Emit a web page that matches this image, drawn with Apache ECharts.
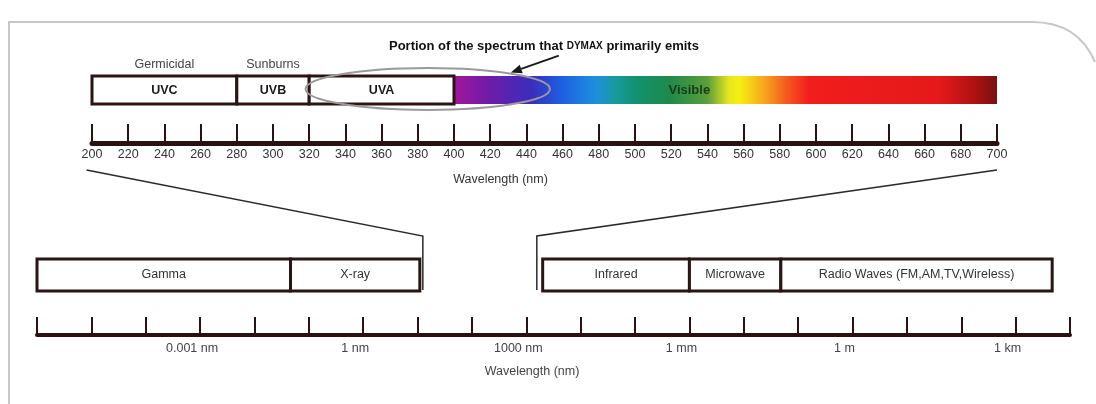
<!DOCTYPE html>
<html><head><meta charset="utf-8">
<script src="https://cdn.jsdelivr.net/npm/echarts@6/dist/echarts.min.js"></script>
<style>html,body{margin:0;padding:0;background:#fff}#c{width:1096px;height:404px}</style>
</head><body><div id="c"></div>
<script>
const FONT = "'Liberation Sans', Arial, sans-serif";

// ---------- top scale (wavelength, nm) ----------
const topMin = 200, topMax = 700, topStep = 20;
const uvNames = ['UVC', 'UVB', 'UVA'];
const uvStart = [200, 280, 320];
const uvEnd = [280, 320, 400];
const uvNotes = ['Germicidal', 'Sunburns', ''];
const visibleName = 'Visible';
const visibleRange = [400, 700];
const visibleLabelNm = 530;
const spectrumNm = [400, 420, 443, 459, 478, 490, 502, 519, 540, 552, 558, 571, 583, 596, 668, 686, 700];
const spectrumColor = ['#a3169d', '#6c1ca9', '#3a2dbd', '#1e5ee0', '#1e8fe0', '#179a9a', '#11916c', '#1f8a4b',
  '#5c9e3c', '#e6e61e', '#f7ee12', '#f6a81b', '#f55e1f', '#f21d1d', '#e51919', '#b51212', '#7a1010'];
const emitRange = [318, 453];
const emitTitle = ['Portion of the spectrum that ', 'DYMAX', ' primarily emits'];

// ---------- bottom scale (wavelength, nm, logarithmic) ----------
const logMin = 1e-6, logMax = 1e13;
const bandNames = ['Gamma', 'X-ray', 'Infrared', 'Microwave', 'Radio Waves (FM,AM,TV,Wireless)'];
const bandStart = [1e-6, 0.046, 2000, 1e6, 4.8e7];
const bandEnd = [0.046, 11, 1e6, 4.8e7, 4.7e12];
const logTickValues = [1e-3, 1, 1e3, 1e6, 1e9, 1e12];
const logTickLabels = ['0.001 nm', '1 nm', '1000 nm', '1 mm', '1 m', '1 km'];

// ---------- zoom connectors (top nm -> bottom nm) ----------
const connectorTopNm = [197, 700];
const connectorBottomNm = [12.5, 1560];

const AXIS_DARK = '#2b1212';
const BOX_STROKE = '#2a1414';
const lg = v => Math.log10(v);

const chart = echarts.init(document.getElementById('c'), null, {renderer: 'canvas'});

const gradient = new echarts.graphic.LinearGradient(0, 0, 1, 0,
  spectrumNm.map((nm, i) => ({offset: (nm - visibleRange[0]) / (visibleRange[1] - visibleRange[0]), color: spectrumColor[i]})));

const BAND_H_TOP = 28, BAND_H_BOT = 32;

const option = {
  backgroundColor: '#ffffff',
  animation: false,
  title: {
    text: '{a|' + emitTitle[0] + '}{b|' + emitTitle[1] + '}{a|' + emitTitle[2] + '}',
    left: 384, top: 35,
    textStyle: {rich: {
      a: {fontFamily: FONT, fontWeight: 'bold', fontSize: 13, color: '#111'},
      b: {fontFamily: FONT, fontWeight: 'bold', fontSize: 10, color: '#111'}
    }}
  },
  grid: [
    {left: 92, right: 99, top: 76, bottom: 404 - 143},
    {left: 37, right: 26, top: 259, bottom: 404 - 335}
  ],
  xAxis: [
    {
      gridIndex: 0, type: 'value', min: topMin, max: topMax, interval: topStep,
      axisLine: {lineStyle: {color: AXIS_DARK, width: 5}},
      axisTick: {inside: true, length: 19, lineStyle: {color: AXIS_DARK, width: 2}},
      axisLabel: {margin: 5, color: '#333', fontFamily: FONT, fontSize: 12.5},
      splitLine: {show: false},
      name: 'Wavelength (nm)', nameLocation: 'middle', nameGap: 30,
      nameTextStyle: {color: '#333', fontFamily: FONT, fontSize: 12.5, padding: [0, 88, 0, 0]}
    },
    {
      gridIndex: 1, type: 'value', min: lg(logMin), max: lg(logMax), interval: 1,
      axisLine: {lineStyle: {color: AXIS_DARK, width: 4}},
      axisTick: {inside: true, length: 18, lineStyle: {color: AXIS_DARK, width: 2}},
      axisLabel: {
        margin: 7, color: '#444', fontFamily: FONT, fontSize: 12.5, padding: [0, 16, 0, 0],
        formatter: v => {
          const k = logTickValues.findIndex(t => Math.abs(lg(t) - v) < 1e-6);
          return k >= 0 ? logTickLabels[k] : '';
        }
      },
      splitLine: {show: false},
      name: 'Wavelength (nm)', nameLocation: 'middle', nameGap: 30,
      nameTextStyle: {color: '#444', fontFamily: FONT, fontSize: 12.5, padding: [0, 43, 0, 0]}
    }
  ],
  yAxis: [
    {gridIndex: 0, type: 'value', min: 0, max: 1, show: false},
    {gridIndex: 1, type: 'value', min: 0, max: 1, show: false}
  ],
  series: [
    // visible spectrum gradient
    {
      type: 'custom', xAxisIndex: 0, yAxisIndex: 0, silent: true,
      data: [[visibleRange[0], visibleRange[1], visibleLabelNm]],
      renderItem: (params, api) => {
        const p0 = api.coord([api.value(0), 1]);
        const p1 = api.coord([api.value(1), 1]);
        const pl = api.coord([api.value(2), 1]);
        return {type: 'group', children: [
          {type: 'rect', shape: {x: p0[0], y: p0[1], width: p1[0] - p0[0], height: BAND_H_TOP}, style: {fill: gradient}},
          {type: 'text', style: {text: visibleName, x: pl[0], y: p0[1] + BAND_H_TOP / 2, align: 'center', verticalAlign: 'middle',
            fontFamily: FONT, fontWeight: 'bold', fontSize: 13, fill: '#173d17'}}
        ]};
      }
    },
    // UV boxes
    {
      type: 'custom', xAxisIndex: 0, yAxisIndex: 0, silent: true,
      data: uvNames.map((n, i) => [uvStart[i], uvEnd[i]]),
      renderItem: (params, api) => {
        const i = params.dataIndex;
        const p0 = api.coord([api.value(0), 1]);
        const p1 = api.coord([api.value(1), 1]);
        const cx = (p0[0] + p1[0]) / 2;
        return {type: 'group', children: [
          {type: 'rect', shape: {x: p0[0], y: p0[1], width: p1[0] - p0[0], height: BAND_H_TOP},
            style: {fill: '#fff', stroke: BOX_STROKE, lineWidth: 3}},
          {type: 'text', style: {text: uvNames[i], x: cx, y: p0[1] + BAND_H_TOP / 2 + 1, align: 'center', verticalAlign: 'middle',
            fontFamily: FONT, fontWeight: 'bold', fontSize: 12.5, fill: '#1a1a1a'}},
          {type: 'text', style: {text: uvNotes[i], x: cx, y: p0[1] - 11, align: 'center', verticalAlign: 'middle',
            fontFamily: FONT, fontSize: 12.5, fill: '#444'}}
        ]};
      }
    },
    // emission ellipse + arrow
    {
      type: 'custom', xAxisIndex: 0, yAxisIndex: 0, silent: true,
      data: [[emitRange[0], emitRange[1]]],
      renderItem: (params, api) => {
        const p0 = api.coord([api.value(0), 1]);
        const p1 = api.coord([api.value(1), 1]);
        const cx = (p0[0] + p1[0]) / 2, rx = (p1[0] - p0[0]) / 2;
        const cy = p0[1] + 13, ry = 21;
        const t = 0.68;
        const hx = cx + t * rx, hy = cy - ry * Math.sqrt(1 - t * t) - 1;
        const tx = hx + 48, ty = hy - 17;
        const dx = hx - tx, dy = hy - ty, L = Math.hypot(dx, dy);
        const ux = dx / L, uy = dy / L;
        const bx = hx - ux * 11, by = hy - uy * 11;
        return {type: 'group', children: [
          {type: 'ellipse', shape: {cx: cx, cy: cy, rx: rx, ry: ry}, style: {fill: null, stroke: '#9a9a9a', lineWidth: 2}},
          {type: 'line', shape: {x1: tx, y1: ty, x2: bx, y2: by}, style: {stroke: '#1a1a1a', lineWidth: 2}},
          {type: 'polygon', shape: {points: [[hx, hy], [bx - uy * 4.5, by + ux * 4.5], [bx + uy * 4.5, by - ux * 4.5]]},
            style: {fill: '#1a1a1a'}}
        ]};
      }
    },
    // bottom spectrum boxes
    {
      type: 'custom', xAxisIndex: 1, yAxisIndex: 1, silent: true,
      data: bandNames.map((n, i) => [lg(bandStart[i]), lg(bandEnd[i])]),
      renderItem: (params, api) => {
        const i = params.dataIndex;
        const p0 = api.coord([api.value(0), 1]);
        const p1 = api.coord([api.value(1), 1]);
        return {type: 'group', children: [
          {type: 'rect', shape: {x: p0[0], y: p0[1], width: p1[0] - p0[0], height: BAND_H_BOT},
            style: {fill: '#fff', stroke: BOX_STROKE, lineWidth: 3}},
          {type: 'text', style: {text: bandNames[i], x: (p0[0] + p1[0]) / 2, y: p0[1] + BAND_H_BOT / 2, align: 'center', verticalAlign: 'middle',
            fontFamily: FONT, fontSize: 12.5, fill: '#333'}}
        ]};
      }
    }
  ]
};

chart.setOption(option);

// frame + zoom connectors, positioned through the axes
const graphics = [
  {id: 'frameL', type: 'polyline', silent: true, z: -10,
    shape: {points: [[9, 404], [9, 22], [1032, 22]]},
    style: {fill: null, stroke: '#c8c8c8', lineWidth: 2}},
  {id: 'frameC', type: 'bezierCurve', silent: true, z: -10,
    shape: {x1: 1032, y1: 22, cpx1: 1078, cpy1: 22, x2: 1095, y2: 62},
    style: {fill: null, stroke: '#c8c8c8', lineWidth: 2}}
];
for (let k = 0; k < connectorTopNm.length; k++) {
  const a = chart.convertToPixel({gridIndex: 0}, [connectorTopNm[k], 0]);
  const b = chart.convertToPixel({gridIndex: 1}, [lg(connectorBottomNm[k]), 1]);
  graphics.push({id: 'conn' + k, type: 'polyline', silent: true,
    shape: {points: [[a[0], a[1] + 27], [b[0], b[1] - 23], [b[0], b[1] + 31]]},
    style: {fill: null, stroke: '#2a2a2a', lineWidth: 1.5}});
}
chart.setOption({graphic: graphics});
</script>
</body></html>
